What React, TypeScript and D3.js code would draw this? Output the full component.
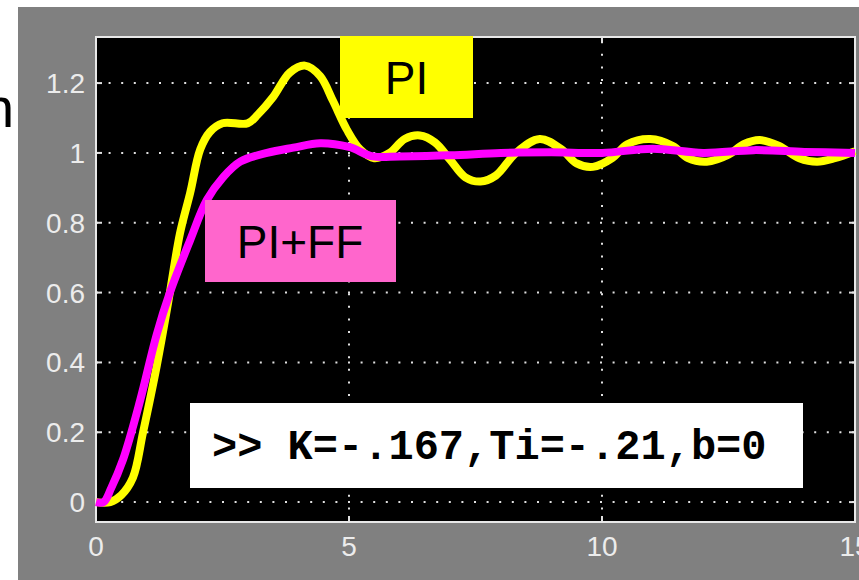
import React from "react";
import * as d3 from "d3";

// step response, PI controller
const piT = [0, 0.28, 0.5, 0.73, 0.93, 1.2, 1.46, 1.66, 1.86, 2.06, 2.25, 2.5, 3.0, 3.2, 3.5, 3.83, 4.13, 4.43, 4.68, 4.96, 5.22, 5.5, 5.8, 6.1, 6.4, 6.7, 7.0, 7.3, 7.6, 7.9, 8.3, 8.77, 9.2, 9.5, 9.82, 10.2, 10.5, 10.95, 11.4, 11.7, 12.07, 12.5, 12.8, 13.12, 13.5, 13.9, 14.25, 14.6, 15];
const piY = [0, 0, 0.02, 0.07, 0.2, 0.39, 0.6, 0.77, 0.885, 1.01, 1.06, 1.085, 1.085, 1.11, 1.16, 1.23, 1.25, 1.22, 1.15, 1.066, 1.01, 0.985, 1.0, 1.04, 1.05, 1.03, 0.98, 0.93, 0.918, 0.935, 1.0, 1.04, 1.01, 0.97, 0.96, 0.985, 1.025, 1.04, 1.02, 0.985, 0.975, 0.995, 1.025, 1.037, 1.02, 0.985, 0.975, 0.985, 1.005];

// PI + feedforward
const ffT = [0, 0.15, 0.3, 0.53, 0.87, 1.2, 1.46, 1.86, 2.19, 2.51, 2.85, 3.38, 3.9, 4.43, 5.0, 5.47, 6.0, 7.0, 8.0, 9.0, 10.0, 11.0, 12.0, 13.0, 14.0, 15];
const ffY = [0, 0, 0.04, 0.12, 0.29, 0.48, 0.6, 0.75, 0.865, 0.93, 0.975, 1.0, 1.015, 1.028, 1.017, 0.99, 0.99, 0.993, 1.0, 1.002, 1.0, 1.012, 1.0, 1.008, 1.003, 1.0];

const xTicks = [0, 5, 10, 15];
const yTicks = [0, 0.2, 0.4, 0.6, 0.8, 1, 1.2];
const yTickLabels = ["0", "0.2", "0.4", "0.6", "0.8", "1", "1.2"];

const W = 859;
const H = 580;
const box = { left: 96, right: 855, top: 37, bottom: 522 };

export default function App() {
  const x = d3.scaleLinear().domain([0, 15]).range([box.left, box.right]);
  const y = d3.scaleLinear().domain([-0.057, 1.332]).range([box.bottom, box.top]);

  const line = d3
    .line<[number, number]>()
    .x((d) => x(d[0]))
    .y((d) => y(d[1]))
    .curve(d3.curveCatmullRom.alpha(0.5));

  const piPath = line(piT.map((t, i) => [t, piY[i]]));
  const ffPath = line(ffT.map((t, i) => [t, ffY[i]]));

  const gridCol = "#e0e0e0";
  const sans = "'Liberation Sans', Arial, sans-serif";

  return (
    <svg width={W} height={H} style={{ position: "absolute", left: 0, top: 0 }}>
      <rect x={0} y={0} width={W} height={H} fill="#fff" />
      <text x={-17} y={127} fontSize={56} fontFamily={sans} fill="#000">n</text>
      <rect x={18} y={7} width={W - 18} height={H - 7} fill="#808080" />
      <rect x={box.left} y={box.top} width={box.right - box.left} height={box.bottom - box.top} fill="#000" />

      {/* dotted grid */}
      {yTicks.map((v) => (
        <line key={"gy" + v} x1={box.left} x2={box.right} y1={y(v)} y2={y(v)}
          stroke={gridCol} strokeWidth={2} strokeDasharray="2,10.6" />
      ))}
      {xTicks.slice(1, 3).map((v) => (
        <line key={"gx" + v} x1={x(v)} x2={x(v)} y1={box.bottom} y2={box.top}
          stroke={gridCol} strokeWidth={2} strokeDasharray="2,10.6" />
      ))}

      {/* ticks */}
      {yTicks.map((v) => (
        <g key={"ty" + v}>
          <line x1={box.left} x2={box.left + 6} y1={y(v)} y2={y(v)} stroke={gridCol} strokeWidth={2} />
          <line x1={box.right} x2={box.right - 6} y1={y(v)} y2={y(v)} stroke={gridCol} strokeWidth={2} />
        </g>
      ))}
      {xTicks.map((v) => (
        <g key={"tx" + v}>
          <line x1={x(v)} x2={x(v)} y1={box.bottom} y2={box.bottom - 6} stroke={gridCol} strokeWidth={2} />
          <line x1={x(v)} x2={x(v)} y1={box.top} y2={box.top + 6} stroke={gridCol} strokeWidth={2} />
        </g>
      ))}
      <rect x={box.left} y={box.top} width={box.right - box.left} height={box.bottom - box.top}
        fill="none" stroke="#e8e8e8" strokeWidth={2} />

      {/* tick labels */}
      {yTicks.map((v, i) => (
        <text key={"ly" + v} x={85} y={y(v) + 10} textAnchor="end" fontSize={28}
          fontFamily={sans} fill="#ececec">{yTickLabels[i]}</text>
      ))}
      {xTicks.map((v) => (
        <text key={"lx" + v} x={x(v)} y={556} textAnchor="middle" fontSize={28}
          fontFamily={sans} fill="#ececec">{v}</text>
      ))}

      {/* curves */}
      <path d={piPath ?? ""} fill="none" stroke="#ffff00" strokeWidth={8} strokeLinejoin="round" />
      <path d={ffPath ?? ""} fill="none" stroke="#ff00ff" strokeWidth={8} strokeLinejoin="round" />

      {/* labels */}
      <rect x={340} y={36} width={133} height={82} fill="#ffff00" />
      <text x={406.5} y={94} textAnchor="middle" fontSize={46} fontFamily={sans} fill="#000">PI</text>

      <rect x={205} y={200} width={191} height={82} fill="#ff66cc" />
      <text x={300} y={258} textAnchor="middle" fontSize={46} fontFamily={sans} fill="#000">PI+FF</text>

      <rect x={190} y={403} width={613} height={85} fill="#fff" />
      <text x={212} y={459} fontSize={42} fontWeight="bold"
        fontFamily="'Liberation Mono', 'Courier New', monospace" fill="#000">{">> K=-.167,Ti=-.21,b=0"}</text>
    </svg>
  );
}
